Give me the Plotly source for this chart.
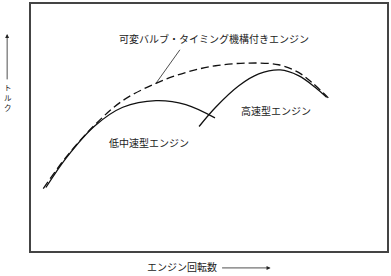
import plotly.graph_objects as go

# Data (engine speed in arbitrary units, torque in arbitrary units)
vvt_rpm = [0.344, 0.997, 1.788, 2.578, 3.511, 4.349, 5.187, 6.117, 6.955, 7.514, 7.885, 8.352]
vvt_torque = [2.53, 3.82, 5.10, 6.09, 6.79, 7.23, 7.50, 7.61, 7.54, 7.23, 6.83, 6.20]

low_rpm = [0.419, 0.997, 1.788, 2.578, 3.511, 4.349, 5.168]
low_torque = [2.57, 3.78, 5.06, 5.82, 6.09, 5.93, 5.39]

high_rpm = [4.721, 5.187, 5.838, 6.397, 7.003, 7.514, 7.980, 8.304]
high_torque = [5.04, 5.82, 6.69, 7.17, 7.33, 7.10, 6.63, 6.22]

label_vvt = "可変バルブ・タイミング機構付きエンジン"
label_high = "高速型エンジン"
label_low = "低中速型エンジン"
x_title = "エンジン回転数"
y_title = "ト<br>ル<br>ク"

FONT = "Noto Sans CJK JP"
fig = go.Figure()
fig.add_trace(go.Scatter(x=vvt_rpm, y=vvt_torque, mode="lines",
                         line=dict(color="#111", width=1.3, dash="8px,4px", shape="spline")))
fig.add_trace(go.Scatter(x=low_rpm, y=low_torque, mode="lines",
                         line=dict(color="#111", width=1.3, shape="spline")))
fig.add_trace(go.Scatter(x=high_rpm, y=high_torque, mode="lines",
                         line=dict(color="#111", width=1.3, shape="spline")))

ann_font = dict(family=FONT, size=10, color="#222")
fig.add_annotation(x=3.511, y=6.79, ax=25, ay=-35, text="", showarrow=True,
                   arrowhead=0, arrowwidth=0.8, arrowcolor="#222")
fig.add_annotation(x=5.136, y=8.59, text=label_vvt, showarrow=False, font=ann_font,
                   xanchor="center", yanchor="middle")
fig.add_annotation(x=6.87, y=5.68, text=label_high, showarrow=False, font=ann_font,
                   xanchor="center", yanchor="middle")
fig.add_annotation(x=3.32, y=4.40, text=label_low, showarrow=False, font=ann_font,
                   xanchor="center", yanchor="middle")

# axis titles with arrows (paper coordinates)
fig.add_annotation(xref="paper", yref="paper", x=-0.067, y=0.879, ax=0, ay=47,
                   text="", showarrow=True, arrowhead=2, arrowsize=1, arrowwidth=0.8,
                   arrowcolor="#222")
fig.add_annotation(xref="paper", yref="paper", x=-0.0656, y=0.623, text=y_title,
                   showarrow=False, font=dict(family=FONT, size=7.5, color="#222"),
                   xanchor="center", yanchor="middle")
fig.add_annotation(xref="paper", yref="paper", x=0.673, y=-0.0685, ax=-50, ay=0,
                   text="", showarrow=True, arrowhead=2, arrowsize=1, arrowwidth=0.8,
                   arrowcolor="#222")
fig.add_annotation(xref="paper", yref="paper", x=0.4246, y=-0.062, text=x_title,
                   showarrow=False, font=dict(family=FONT, size=10, color="#222"),
                   xanchor="center", yanchor="middle")

fig.update_xaxes(range=[0, 10], showgrid=False, zeroline=False, showticklabels=False,
                 ticks="", showline=True, mirror=True, linecolor="#444", linewidth=1.5)
fig.update_yaxes(range=[0, 10], showgrid=False, zeroline=False, showticklabels=False,
                 ticks="", showline=True, mirror=True, linecolor="#444", linewidth=1.5)
fig.update_layout(width=391, height=276, margin=dict(l=31, r=2, t=3, b=25),
                  plot_bgcolor="white", paper_bgcolor="white", showlegend=False)
fig.write_html("out.html")
